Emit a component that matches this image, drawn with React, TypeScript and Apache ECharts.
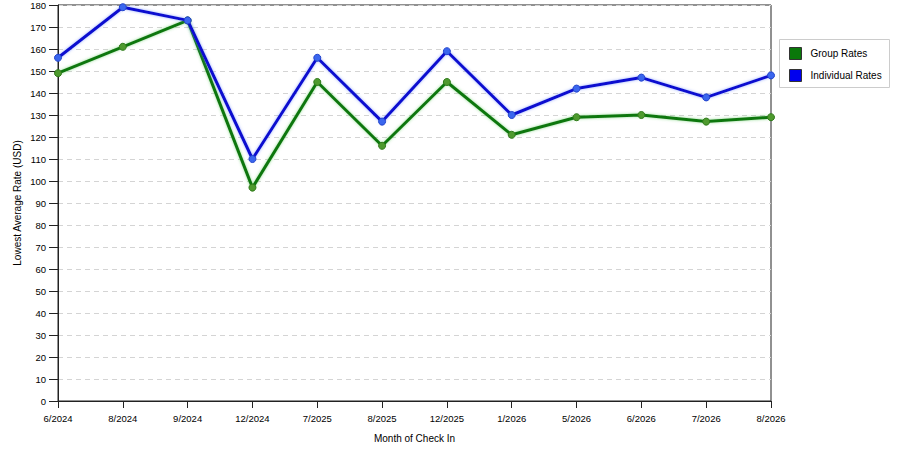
import { useEffect, useRef } from "react";
import * as echarts from "echarts";

const months = [
  "6/2024", "8/2024", "9/2024", "12/2024", "7/2025", "8/2025",
  "12/2025", "1/2026", "5/2026", "6/2026", "7/2026", "8/2026",
];

const groupRates = [149, 161, 173, 97, 145, 116, 145, 121, 129, 130, 127, 129];
const individualRates = [156, 179, 173, 110, 156, 127, 159, 130, 142, 147, 138, 148];

const FONT = "Liberation Sans, Arial, sans-serif";

export default function App() {
  const ref = useRef<HTMLDivElement | null>(null);

  useEffect(() => {
    document.body.style.margin = "0";
    const el = ref.current;
    if (!el) {
      return;
    }
    const chart = echarts.init(el, null, { renderer: "svg" });

    chart.setOption({
      animation: false,
      backgroundColor: "#ffffff",
      textStyle: { fontFamily: FONT },
      grid: {
        left: 58,
        right: 129,
        top: 4.5,
        bottom: 49,
        show: true,
        borderColor: "#222",
        borderWidth: 1,
      },
      graphic: [
        {
          type: "rect",
          left: 779,
          top: 39,
          shape: { width: 110, height: 48 },
          style: { fill: "#fff", stroke: "#ccc", lineWidth: 1 },
          z: 0,
        },
      ],
      legend: {
        orient: "vertical",
        left: 789,
        top: 47,
        itemWidth: 12,
        itemHeight: 12,
        itemGap: 9,
        icon: "rect",
        padding: 0,
        textStyle: {
          fontFamily: FONT,
          fontSize: 10,
          color: "#000",
          padding: [0, 0, 0, 4],
        },
        itemStyle: { borderColor: "#333", borderWidth: 1 },
        data: [
          { name: "Group Rates", itemStyle: { color: "#0a780a" } },
          { name: "Individual Rates", itemStyle: { color: "#0000ee" } },
        ],
      },
      xAxis: {
        type: "category",
        data: months,
        boundaryGap: false,
        name: "Month of Check In",
        nameLocation: "middle",
        nameGap: 32,
        nameMoveOverlap: false,
        nameTextStyle: { fontFamily: FONT, fontSize: 10, color: "#000" },
        axisLine: { lineStyle: { color: "#222", width: 1 } },
        axisTick: { alignWithLabel: true, length: 7, lineStyle: { color: "#222" } },
        axisLabel: { fontFamily: FONT, fontSize: 9.5, color: "#000", margin: 12 },
        splitLine: { show: false },
      },
      yAxis: {
        type: "value",
        min: 0,
        max: 180,
        interval: 10,
        name: "Lowest Average Rate (USD)",
        nameLocation: "middle",
        nameGap: 36,
        nameMoveOverlap: false,
        nameTextStyle: { fontFamily: FONT, fontSize: 10, color: "#000" },
        axisLine: { show: true, lineStyle: { color: "#222", width: 1 } },
        axisTick: { show: true, length: 9, lineStyle: { color: "#222" } },
        axisLabel: { fontFamily: FONT, fontSize: 9.5, color: "#000", margin: 12 },
        splitLine: { lineStyle: { color: "#d4d4d4", type: [5, 4] } },
      },
      series: [
        {
          name: "Group Rates",
          type: "line",
          data: groupRates,
          color: "#0a780a",
          symbol: "circle",
          symbolSize: 7,
          lineStyle: {
            width: 3,
            color: "#117711",
            shadowColor: "rgba(80,200,80,0.6)",
            shadowBlur: 3,
          },
          itemStyle: { color: "#4e9a2e", borderColor: "#2f7a1a", borderWidth: 1 },
          z: 3,
        },
        {
          name: "Individual Rates",
          type: "line",
          data: individualRates,
          color: "#0000ee",
          symbol: "circle",
          symbolSize: 7,
          lineStyle: {
            width: 3,
            color: "#0c0cd0",
            shadowColor: "rgba(90,120,255,0.6)",
            shadowBlur: 3,
          },
          itemStyle: { color: "#3a66ee", borderColor: "#2244cc", borderWidth: 1 },
          z: 4,
        },
      ],
    });

    return () => {
      chart.dispose();
    };
  }, []);

  return <div ref={ref} style={{ width: 900, height: 450 }} />;
}
